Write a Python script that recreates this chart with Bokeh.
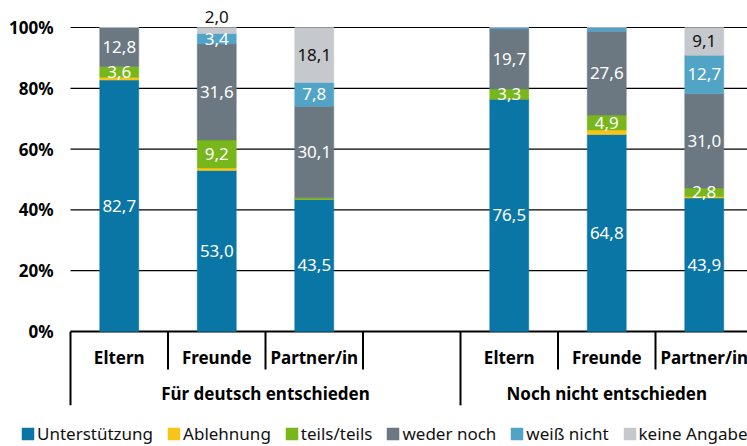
from bokeh.plotting import figure
from bokeh.models import ColumnDataSource, Legend, LegendItem
from bokeh.core.properties import value
from bokeh.embed import file_html
from bokeh.resources import INLINE

# ---------------- data ----------------
groups = ["Für deutsch entschieden", "Noch nicht entschieden"]
subcategories = ["Eltern", "Freunde", "Partner/in"]
series = ["Unterstützung", "Ablehnung", "teils/teils", "weder noch", "weiß nicht", "keine Angabe"]

# order of bars: group 1 (Eltern, Freunde, Partner/in), group 2 (Eltern, Freunde, Partner/in)
unterstuetzung = [82.7, 53.0, 43.5, 76.5, 64.8, 43.9]
ablehnung      = [0.9, 0.8, 0.0, 0.0, 1.5, 0.5]
teils_teils    = [3.6, 9.2, 0.5, 3.3, 4.9, 2.8]
weder_noch     = [12.8, 31.6, 30.1, 19.7, 27.6, 31.0]
weiss_nicht    = [0.0, 3.4, 7.8, 0.5, 1.2, 12.7]
keine_angabe   = [0.0, 2.0, 18.1, 0.0, 0.0, 9.1]

y_ticks = [0, 20, 40, 60, 80, 100]
y_tick_labels = ["0%", "20%", "40%", "60%", "80%", "100%"]

# ---------------- styles ----------------
colors = ["#0a76a5", "#f7c517", "#78b71c", "#6b7781", "#52a4c6", "#c5c8cc"]
text_colors = ["white", "white", "white", "white", "white", "#111111"]
FONT = "Noto Sans"
slots_per_group = [4, 3]          # group 1 has an empty slot after Partner/in
px_per_slot = 97.5
px_per_pct = 3.04
W, H = 747, 446
axis_px = 70                       # left edge of the plotting area
top_px = 27                        # pixel row of the 100% line
x_start = -axis_px / px_per_slot
x_end = (W - axis_px) / px_per_slot
y_top = 100 + top_px / px_per_pct
y_bottom = y_top - H / px_per_pct

values = [unterstuetzung, ablehnung, teils_teils, weder_noch, weiss_nicht, keine_angabe]

# x positions from slot layout
xs, group_starts, short_seps, group_centers = [], [], [], []
offset = 0
for g, n in enumerate(slots_per_group):
    group_starts.append(offset)
    group_centers.append(offset + n / 2)
    for i, sc in enumerate(subcategories):
        xs.append(offset + i + 0.5)
    for b in range(1, n):
        short_seps.append(offset + b)
    offset += n
group_starts.append(offset)
sub_labels = subcategories * len(groups)

data = {"x": xs}
for s, v in zip(series, values):
    data[s] = v
source = ColumnDataSource(data)

p = figure(width=W, height=H, x_range=(x_start, x_end), y_range=(y_bottom, y_top),
           output_backend="svg", toolbar_location=None,
           x_axis_location=None, y_axis_location=None,
           min_border_left=0, min_border_right=0, min_border_top=0, min_border_bottom=0)
p.outline_line_color = None
p.background_fill_color = "white"
p.xgrid.visible = False
p.ygrid.visible = False

# horizontal grid lines (0% line thicker, acts as the axis)
grid_y = y_ticks[1:]
p.segment(x0=[0] * len(grid_y), y0=grid_y, x1=[x_end + 1] * len(grid_y), y1=grid_y,
          line_color="black", line_width=1.2)
p.segment(x0=[0], y0=[0], x1=[x_end + 1], y1=[0], line_color="black", line_width=2.2)

# y tick labels
p.text(x=[-17 / px_per_slot] * len(y_ticks), y=y_ticks, text=y_tick_labels,
       text_align="right", text_baseline="middle", text_font=value(FONT),
       text_font_style="bold", text_font_size="17px", text_color="black")

renderers = p.vbar_stack(series, x="x", width=0.4, source=source,
                         fill_color=colors, line_color=colors, line_width=0.5)

# separators of the category axis
short_depth = -12.5
long_depth = -24.3
p.segment(x0=short_seps, y0=[0] * len(short_seps), x1=short_seps,
          y1=[short_depth] * len(short_seps), line_color="black", line_width=2)
p.segment(x0=group_starts, y0=[0] * len(group_starts), x1=group_starts,
          y1=[long_depth] * len(group_starts), line_color="black", line_width=2)

p.text(x=xs, y=[-8.6] * len(xs), text=sub_labels, text_align="center",
       text_baseline="middle", text_font=value(FONT), text_font_style="bold",
       text_font_size="17px", text_color="black")
p.text(x=group_centers, y=[-20.4] * len(group_centers), text=groups, text_align="center",
       text_baseline="middle", text_font=value(FONT), text_font_style="bold",
       text_font_size="17px", text_color="black")

# value labels
lx, ly, lt, lc = [], [], [], []
for j, x in enumerate(xs):
    bottom = 0.0
    for s, vals in enumerate(values):
        v = vals[j]
        top = bottom + v
        if v >= 2:
            if s == len(values) - 1 and v < 3:
                y = top + 3.6
            else:
                y = (bottom + top) / 2
            lx.append(x)
            ly.append(y)
            lt.append(f"{v:.1f}".replace(".", ","))
            lc.append(text_colors[s])
        bottom = top
p.text(x=lx, y=ly, text=lt, text_color=lc, text_align="center", text_baseline="middle",
       text_font=value(FONT), text_font_size="17px")

legend = Legend(items=[LegendItem(label=s, renderers=[r]) for s, r in zip(series, renderers)],
                orientation="horizontal", location=(20, 1))
legend.border_line_color = None
legend.background_fill_alpha = 0
legend.padding = 0
legend.margin = 0
legend.spacing = 13
legend.glyph_width = 15
legend.glyph_height = 15
legend.label_standoff = 2
legend.label_text_font = FONT
legend.label_text_font_size = "17px"
legend.label_text_color = "#111111"
p.add_layout(legend)

open("out.html", "w").write(file_html(p, INLINE))
